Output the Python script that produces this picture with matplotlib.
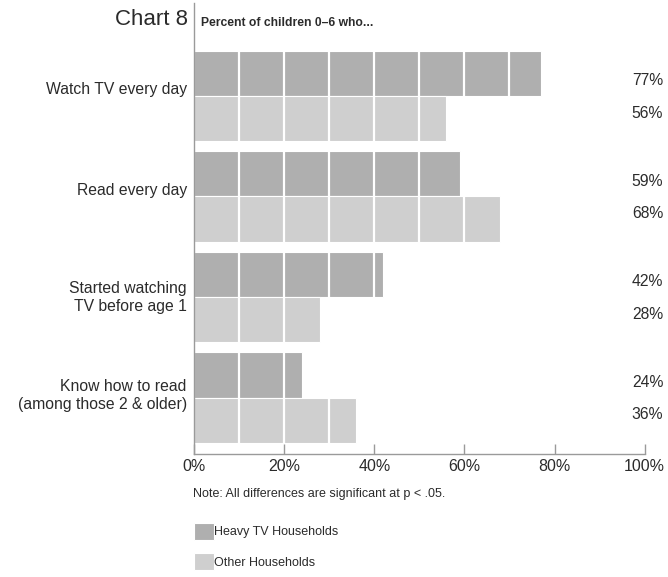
import matplotlib
matplotlib.use("Agg")
import matplotlib.pyplot as plt
import numpy as np

plt.rcParams["font.family"] = ["Liberation Sans", "DejaVu Sans"]

categories = [
    "Watch TV every day",
    "Read every day",
    "Started watching\nTV before age 1",
    "Know how to read\n(among those 2 & older)",
]
heavy_tv = [77, 59, 42, 24]
other = [56, 68, 28, 36]
series_labels = ["Heavy TV Households", "Other Households"]
xticks = [0, 20, 40, 60, 80, 100]

DARK = "#afafaf"
LIGHT = "#cfcfcf"
TEXT = "#2b2b2b"
AXIS = "#9a9a9a"

W, H = 668, 577
fig = plt.figure(figsize=(W / 100, H / 100), dpi=100)

# axes box in pixels: x 194..644.7, y 3..453.5
ax = fig.add_axes([194 / W, 1 - 453.5 / H, 450.7 / W, 450.5 / H])

y = np.arange(len(categories))
bh = 0.448
dark_bars = ax.barh(y - bh / 2, heavy_tv, height=bh, color=DARK,
                    edgecolor="white", linewidth=0.8, label=series_labels[0])
light_bars = ax.barh(y + bh / 2, other, height=bh, color=LIGHT,
                     edgecolor="white", linewidth=0.8, label=series_labels[1])

# white 10% dividers across the bars
for i in y:
    ax.vlines(np.arange(10, 100, 10), i - bh, i + bh, color="white",
              linewidth=1.6, zorder=3)

ax.set_xlim(0, 100)
ax.set_ylim(3.557, -0.925)

for s in ["top", "right"]:
    ax.spines[s].set_visible(False)
for s in ["left", "bottom"]:
    ax.spines[s].set_color(AXIS)
    ax.spines[s].set_linewidth(1.0)

ax.set_xticks(xticks)
ax.set_xticklabels([f"{t}%" for t in xticks])
ax.tick_params(axis="x", direction="in", length=7, width=1.0, color=AXIS,
               labelsize=11.5, labelcolor=TEXT, pad=4)
ax.set_yticks([])

# category labels
offsets = [-0.06, -0.06, 0.0, -0.02]
for i, (lbl, off) in enumerate(zip(categories, offsets)):
    ax.text(-1.6, i + off, lbl, ha="right", va="center", fontsize=11.3,
            color=TEXT, linespacing=1.25, clip_on=False)

# value labels at the right
for i, (a, b) in enumerate(zip(heavy_tv, other)):
    ax.text(104.1, i - 0.15, f"{a}%", ha="right", va="center", fontsize=11.3,
            color=TEXT, clip_on=False)
    ax.text(104.1, i + 0.17, f"{b}%", ha="right", va="center", fontsize=11.3,
            color=TEXT, clip_on=False)

fig.text(188 / W, 1 - 25 / H, "Chart 8", ha="right", va="baseline",
         fontsize=16, color=TEXT)
fig.text(201 / W, 1 - 26 / H, "Percent of children 0\u20136 who...", ha="left",
         va="baseline", fontsize=8.7, fontweight="bold", color=TEXT)

fig.text(193 / W, 1 - 494 / H, "Note: All differences are significant at p < .05.",
         ha="left", va="center", fontsize=9, color=TEXT)

fig.legend(handles=[dark_bars, light_bars], labels=series_labels,
           loc="upper left", bbox_to_anchor=(193.5 / W, 1 - 523 / H),
           frameon=False, fontsize=9, handlelength=1.6, handleheight=1.7,
           handletextpad=0.08, labelspacing=1.06, borderpad=0, borderaxespad=0,
           labelcolor=TEXT)

fig.savefig("out.png", dpi=100)
